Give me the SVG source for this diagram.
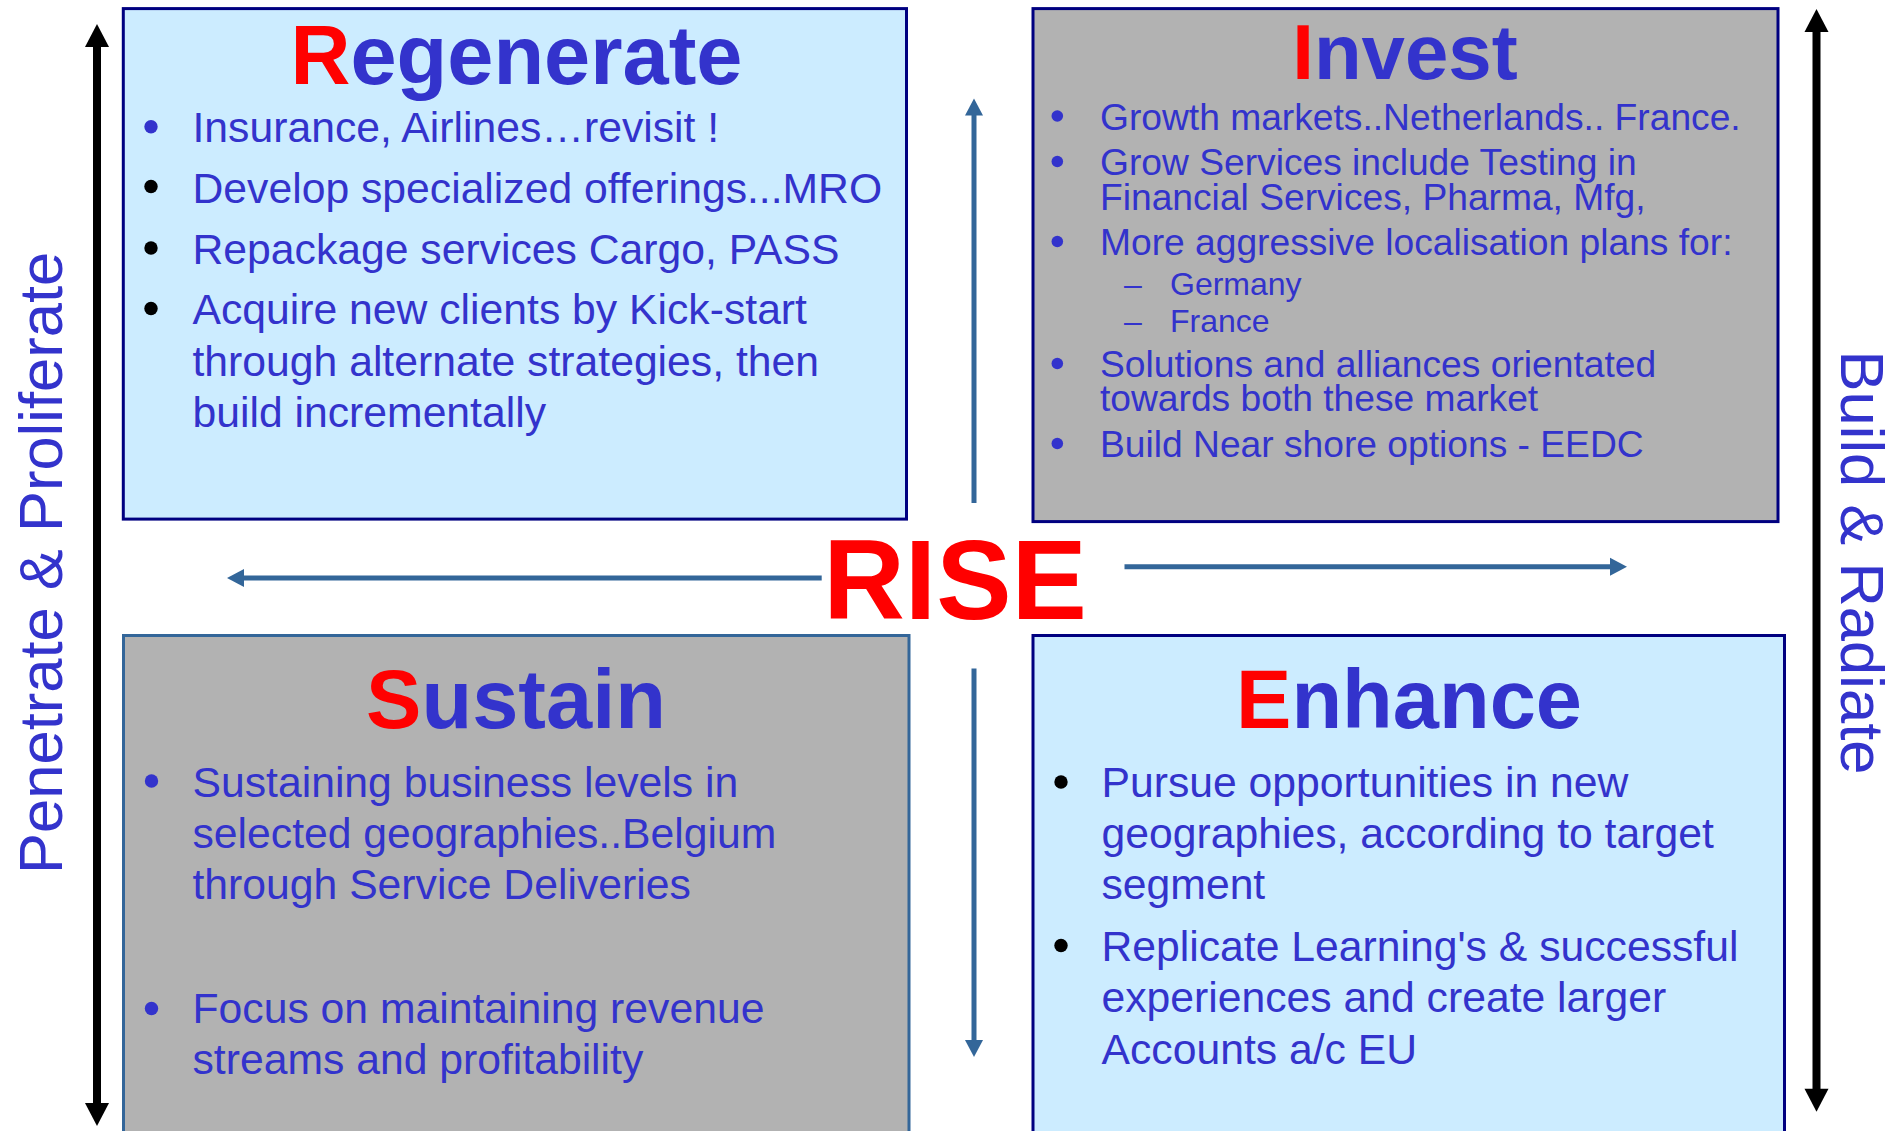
<svg xmlns="http://www.w3.org/2000/svg" width="1894" height="1131" viewBox="0 0 1894 1131">
  <style>
    .box-blue { fill: #CCECFF; stroke: #000080; stroke-width: 3; }
    .box-grey { fill: #B2B2B2; stroke: #000080; stroke-width: 3; }
    .box-grey-soft { fill: #B2B2B2; stroke: #336699; stroke-width: 3; }
    .title { font-family: "Liberation Sans", Arial, sans-serif; font-weight: bold; fill: #3333CC; text-anchor: middle; }
    .initial { fill: #FF0000; }
    .body { font-family: "Liberation Sans", Arial, sans-serif; font-size: 42.7px; fill: #3333CC; }
    .body-sm { font-family: "Liberation Sans", Arial, sans-serif; font-size: 37.2px; fill: #3333CC; }
    .body-xs { font-family: "Liberation Sans", Arial, sans-serif; font-size: 32px; fill: #3333CC; }
    .side { font-family: "Liberation Sans", Arial, sans-serif; font-size: 61.5px; fill: #3333CC; }
    .dot-blue { fill: #3333CC; }
    .dot-black { fill: #000000; }
    .flow { stroke: #336699; stroke-width: 5; fill: none; }
    .axis { stroke: #000000; stroke-width: 8; fill: none; }
  </style>
  <defs>
    <marker id="headBlue" markerUnits="userSpaceOnUse" markerWidth="17" markerHeight="18" refX="1" refY="9" orient="auto-start-reverse" overflow="visible">
      <path d="M0,0 L17,9 L0,18 z" fill="#336699"/>
    </marker>
    <marker id="headBlack" markerUnits="userSpaceOnUse" markerWidth="23" markerHeight="24" refX="1" refY="12" orient="auto-start-reverse" overflow="visible">
      <path d="M0,0 L23,12 L0,24 z" fill="#000000"/>
    </marker>
  </defs>

  <rect width="1894" height="1131" fill="#FFFFFF"/>

  <!-- Regenerate quadrant -->
  <g id="regenerate">
    <rect class="box-blue" x="123.3" y="8.6" width="783.2" height="510.5"/>
    <text class="title" x="516.5" y="84" font-size="83"><tspan class="initial">R</tspan>egenerate</text>
    <circle class="dot-blue" cx="151" cy="126.7" r="6.7"/>
    <circle class="dot-black" cx="151" cy="186.5" r="6.7"/>
    <circle class="dot-black" cx="151" cy="248" r="6.7"/>
    <circle class="dot-black" cx="151" cy="308.5" r="6.7"/>
    <text class="body" x="192.5" y="142">Insurance, Airlines…revisit !</text>
    <text class="body" x="192.5" y="202.5">Develop specialized offerings...MRO</text>
    <text class="body" x="192.5" y="263.5">Repackage services Cargo, PASS</text>
    <text class="body" x="192.5" y="324">Acquire new clients by Kick-start</text>
    <text class="body" x="192.5" y="375.5">through alternate strategies, then</text>
    <text class="body" x="192.5" y="427">build incrementally</text>
  </g>

  <!-- Invest quadrant -->
  <g id="invest">
    <rect class="box-grey" x="1033" y="8.6" width="745" height="513"/>
    <text class="title" x="1405" y="78.6" font-size="78"><tspan class="initial">I</tspan>nvest</text>
    <circle class="dot-blue" cx="1057.3" cy="116" r="5.8"/>
    <circle class="dot-blue" cx="1057.3" cy="161.5" r="5.8"/>
    <circle class="dot-blue" cx="1057.3" cy="241.5" r="5.8"/>
    <circle class="dot-blue" cx="1057.3" cy="363.5" r="5.8"/>
    <circle class="dot-blue" cx="1057.3" cy="443.5" r="5.8"/>
    <text class="body-sm" x="1100" y="129.5">Growth markets..Netherlands.. France.</text>
    <text class="body-sm" x="1100" y="175">Grow Services include Testing in</text>
    <text class="body-sm" x="1100" y="210">Financial Services, Pharma, Mfg,</text>
    <text class="body-sm" x="1100" y="254.5">More aggressive localisation plans for:</text>
    <text class="body-xs" x="1124" y="294.5">–</text>
    <text class="body-xs" x="1170" y="294.5">Germany</text>
    <text class="body-xs" x="1124" y="332">–</text>
    <text class="body-xs" x="1170" y="332">France</text>
    <text class="body-sm" x="1100" y="376.5">Solutions and alliances orientated</text>
    <text class="body-sm" x="1100" y="411">towards both these market</text>
    <text class="body-sm" x="1100" y="456.5">Build Near shore options - EEDC</text>
  </g>

  <!-- Sustain quadrant -->
  <g id="sustain">
    <rect class="box-grey-soft" x="123.5" y="635.5" width="785.5" height="510"/>
    <text class="title" x="516" y="727.5" font-size="83"><tspan class="initial">S</tspan>ustain</text>
    <circle class="dot-blue" cx="151.5" cy="781" r="6.7"/>
    <circle class="dot-blue" cx="151.5" cy="1008.5" r="6.7"/>
    <text class="body" x="192.5" y="796.7">Sustaining business levels in</text>
    <text class="body" x="192.5" y="847.7">selected geographies..Belgium</text>
    <text class="body" x="192.5" y="898.7">through Service Deliveries</text>
    <text class="body" x="192.5" y="1023.2">Focus on maintaining revenue</text>
    <text class="body" x="192.5" y="1073.5">streams and profitability</text>
  </g>

  <!-- Enhance quadrant -->
  <g id="enhance">
    <rect class="box-blue" x="1033" y="635.5" width="751.5" height="510"/>
    <text class="title" x="1409" y="727.5" font-size="83"><tspan class="initial">E</tspan>nhance</text>
    <circle class="dot-black" cx="1061" cy="782" r="6.7"/>
    <circle class="dot-black" cx="1061" cy="945.5" r="6.7"/>
    <text class="body" x="1101.5" y="797.4">Pursue opportunities in new</text>
    <text class="body" x="1101.5" y="847.7">geographies, according to target</text>
    <text class="body" x="1101.5" y="898.7">segment</text>
    <text class="body" x="1101.5" y="960.6">Replicate Learning's &amp; successful</text>
    <text class="body" x="1101.5" y="1011.6">experiences and create larger</text>
    <text class="body" x="1101.5" y="1063.6">Accounts a/c EU</text>
  </g>

  <!-- Centre label -->
  <g id="rise">
    <text x="955" y="619" font-family="'Liberation Sans', Arial, sans-serif" font-weight="bold" font-size="113" fill="#FF0000" text-anchor="middle">RISE</text>
  </g>

  <!-- Side axis labels -->
  <g id="axis-left-label">
    <text class="side" transform="translate(61.5,874) rotate(-90)">Penetrate &amp; Proliferate</text>
  </g>
  <g id="axis-right-label">
    <text class="side" transform="translate(1841,350.5) rotate(90)">Build &amp; Radiate</text>
  </g>

  <!-- Connectors -->
  <g id="connectors">
    <line class="flow" x1="974" y1="503" x2="974" y2="114.5" marker-end="url(#headBlue)"/>
    <line class="flow" x1="974" y1="668.5" x2="974" y2="1041" marker-end="url(#headBlue)"/>
    <line class="flow" x1="821.7" y1="578" x2="243" y2="578" marker-end="url(#headBlue)"/>
    <line class="flow" x1="1124.5" y1="566.7" x2="1611" y2="566.7" marker-end="url(#headBlue)"/>
    <line class="axis" x1="97" y1="46" x2="97" y2="1104" marker-start="url(#headBlack)" marker-end="url(#headBlack)"/>
    <line class="axis" x1="1816.5" y1="31" x2="1816.5" y2="1089.7" marker-start="url(#headBlack)" marker-end="url(#headBlack)"/>
  </g>
</svg>
